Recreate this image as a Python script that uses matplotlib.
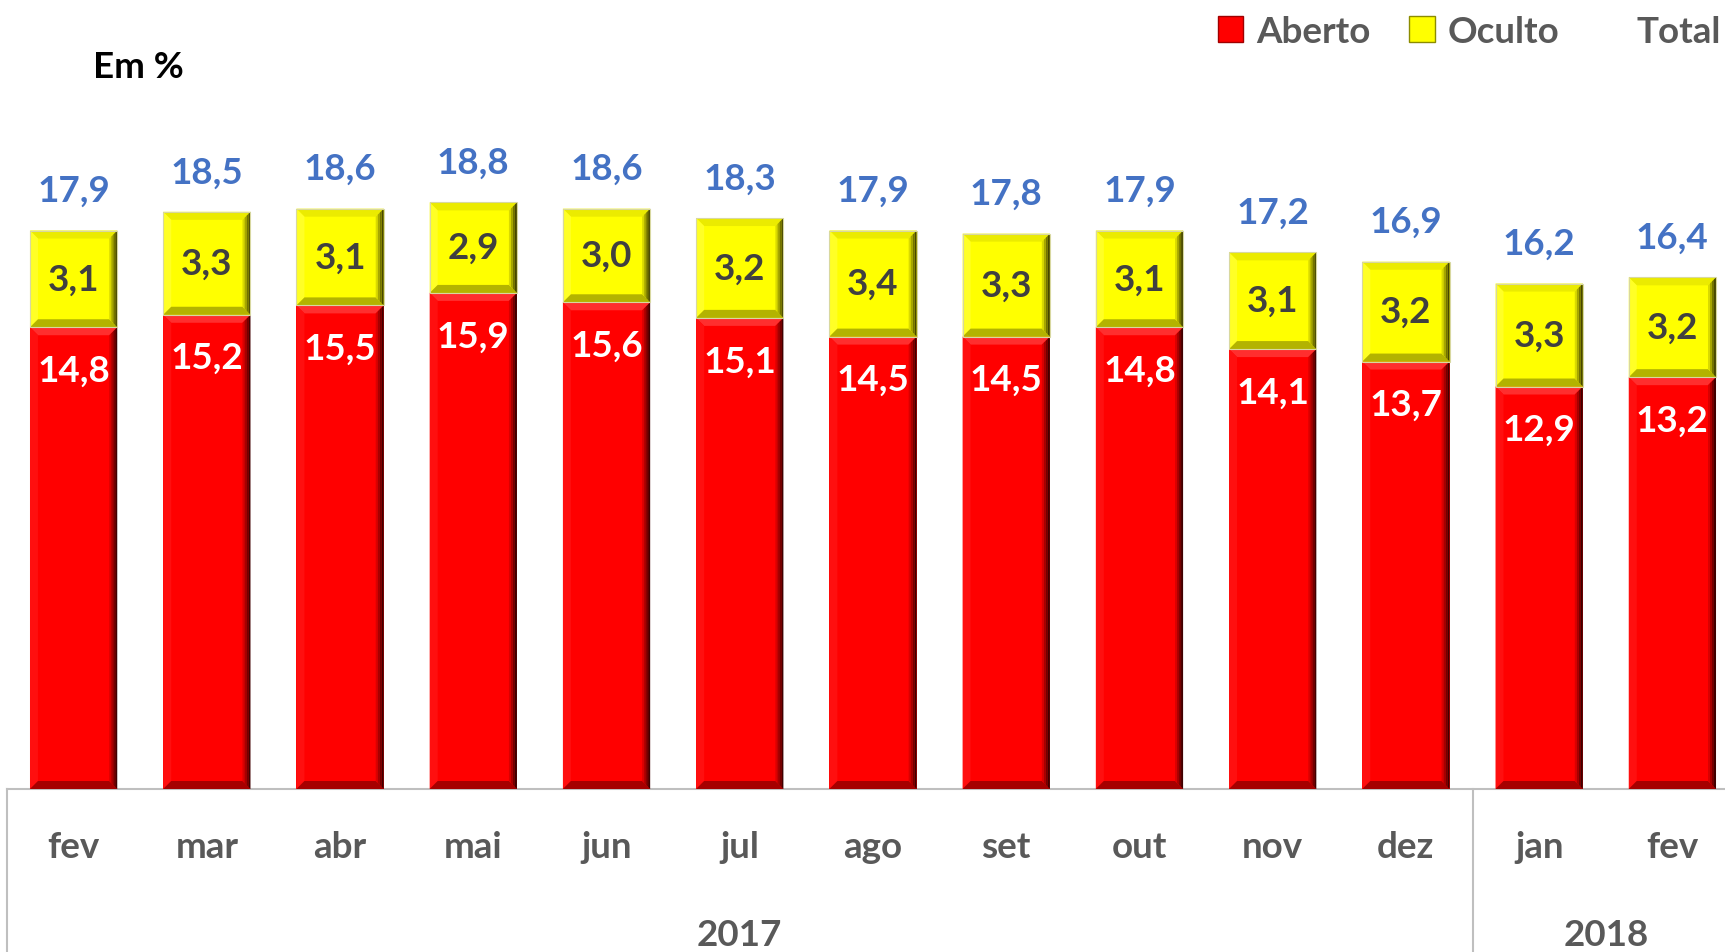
import numpy as np
import matplotlib
matplotlib.use('Agg')
import matplotlib.pyplot as plt
from matplotlib.patches import Polygon, Patch
from matplotlib.lines import Line2D
import matplotlib.colors as mcolors

plt.rcParams['font.family'] = ['Lato', 'DejaVu Sans']

# ---- data ----
months = ['fev', 'mar', 'abr', 'mai', 'jun', 'jul', 'ago', 'set', 'out', 'nov', 'dez', 'jan', 'fev']
years = ['2017', '2018']
year_first = [0, 11]
year_last = [10, 12]
aberto = [14.8, 15.2, 15.5, 15.9, 15.6, 15.1, 14.5, 14.5, 14.8, 14.1, 13.7, 12.9, 13.2]
oculto = [3.1, 3.3, 3.1, 2.9, 3.0, 3.2, 3.4, 3.3, 3.1, 3.1, 3.2, 3.3, 3.2]
total = [17.9, 18.5, 18.6, 18.8, 18.6, 18.3, 17.9, 17.8, 17.9, 17.2, 16.9, 16.2, 16.4]

RED = '#FF0000'
YEL = '#FFFF00'
BLUE = '#4472C4'
GRAY = '#595959'
AXC = '#BFBFBF'

W, H = 1725, 953
fig = plt.figure(figsize=(W / 100, H / 100), dpi=100)
ax_w_px = 1732
ax_h_px = 624
ax = fig.add_axes([7 / W, 163 / H, ax_w_px / W, ax_h_px / H])
n = len(months)
ax.set_xlim(-0.5, n - 0.5)
ax.set_ylim(0, 20)
for s in ax.spines.values():
    s.set_visible(False)
ax.set_xticks([])
ax.set_yticks([])

px_x = ax_w_px / n
px_y = ax_h_px / 20.0

x = np.arange(n)
bw = 0.655
b1 = ax.bar(x, aberto, width=bw, color=RED, zorder=2)
b2 = ax.bar(x, oculto, width=bw, bottom=aberto, color=YEL, zorder=2)


def mix(c, other, t):
    a = np.array(mcolors.to_rgb(c))
    b = np.array(mcolors.to_rgb(other))
    return tuple(a * (1 - t) + b * t)


def bevel(rect, top_c, left_c, bottom_c, right_cs, bpx=8):
    x0, y0 = rect.get_x(), rect.get_y()
    x1, y1 = x0 + rect.get_width(), y0 + rect.get_height()
    bx = bpx / px_x
    by = bpx / px_y
    polys = [
        ([(x0, y1), (x1, y1), (x1 - bx, y1 - by), (x0 + bx, y1 - by)], top_c),
        ([(x0, y0), (x0, y1), (x0 + bx, y1 - by), (x0 + bx, y0 + by)], left_c),
        ([(x0, y0), (x1, y0), (x1 - bx, y0 + by), (x0 + bx, y0 + by)], bottom_c),
    ]
    for p, c in polys:
        ax.add_patch(Polygon(p, closed=True, facecolor=c, edgecolor='none', zorder=3))
    k = len(right_cs)
    for i, c in enumerate(right_cs):
        xa = x1 - bx + bx * i / k
        xb = x1 - bx + bx * (i + 1) / k
        ya_t = y1 - by + by * i / k
        yb_t = y1 - by + by * (i + 1) / k
        ya_b = y0 + by - by * i / k
        yb_b = y0 + by - by * (i + 1) / k
        ax.add_patch(Polygon([(xa, ya_b), (xa, ya_t), (xb, yb_t), (xb, yb_b)], closed=True,
                             facecolor=c, edgecolor='none', zorder=3))


for r in b1:
    bevel(r, mix(RED, 'white', 0.18), mix(RED, 'white', 0.06), mix(RED, 'black', 0.35),
          [mix(RED, 'black', t) for t in (0.15, 0.35, 0.55, 0.75)])
for r in b2:
    bevel(r, mix(YEL, 'black', 0.08), mix(YEL, 'white', 0.15), mix(YEL, 'black', 0.3),
          [mix(YEL, 'black', t) for t in (0.15, 0.35, 0.55, 0.72)])
    ax.add_patch(plt.Rectangle((r.get_x(), r.get_y()), r.get_width(), r.get_height(),
                               fill=False, edgecolor='#D8D8A0', lw=0.8, zorder=4))


def fmt(v):
    return f"{v:.1f}".replace('.', ',')


FS = 26.5
for i in range(n):
    ax.text(x[i], aberto[i] - 43 / px_y, fmt(aberto[i]), ha='center', va='center',
            color='white', fontsize=FS, fontweight='bold', zorder=5)
    ax.text(x[i], aberto[i] + oculto[i] / 2, fmt(oculto[i]), ha='center', va='center',
            color='#404040', fontsize=FS, fontweight='bold', zorder=5)
    ax.text(x[i], total[i] + 40 / px_y, fmt(total[i]), ha='center', va='center',
            color=BLUE, fontsize=FS, fontweight='bold', zorder=5)

# category axis
ax.plot([-0.5, n - 0.5], [0, 0], color=AXC, lw=1.5, clip_on=False, zorder=1)
bottom = -200 / px_y
for xb in [-0.5] + [year_last[k] + 0.5 for k in range(len(years))]:
    ax.plot([xb, xb], [0, bottom], color=AXC, lw=1.5, clip_on=False, zorder=1)
for i in range(n):
    ax.text(x[i], -58 / px_y, months[i], ha='center', va='center', color=GRAY,
            fontsize=FS, fontweight='bold', clip_on=False)
for k, yr in enumerate(years):
    xc = (year_first[k] + year_last[k]) / 2
    ax.text(xc, -146 / px_y, yr, ha='center', va='center', color=GRAY,
            fontsize=FS, fontweight='bold', clip_on=False)

fig.text(93 / W, 1 - 67 / H, 'Em %', ha='left', va='center', color='black',
         fontsize=FS, fontweight='bold')

handles = [Patch(facecolor=RED, edgecolor='#A00000', lw=1),
           Patch(facecolor=YEL, edgecolor='#8C8C00', lw=1),
           Line2D([], [], color='none')]
leg = fig.legend(handles, ['Aberto', 'Oculto', 'Total'], ncol=3, loc='upper right',
                 bbox_to_anchor=(1747 / W, 1 + 10 / H), frameon=False, fontsize=FS,
                 handlelength=0.7, handleheight=0.7, handletextpad=0.35,
                 columnspacing=1.05, borderpad=0.2)
for t in leg.get_texts():
    t.set_color(GRAY)
    t.set_fontweight('bold')

fig.savefig('out.png', dpi=100)
